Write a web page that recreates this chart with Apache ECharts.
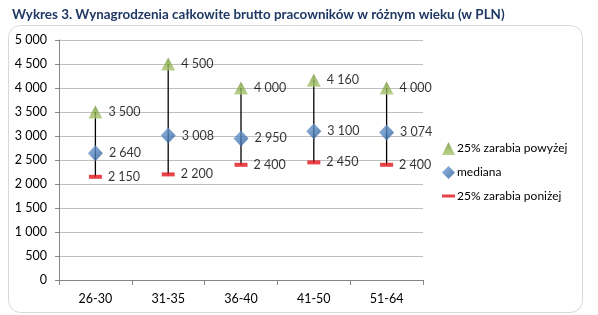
<!DOCTYPE html>
<html>
<head>
<meta charset="utf-8">
<script src="https://cdn.jsdelivr.net/npm/echarts@6/dist/echarts.min.js"></script>
<style>
html,body{margin:0;padding:0;background:#fff;}
#main{width:598px;height:315px;}
</style>
</head>
<body>
<div id="main"></div>
<script>
const categories = ['26-30', '31-35', '36-40', '41-50', '51-64'];
const highValues = [3500, 4500, 4000, 4160, 4000];
const medianValues = [2640, 3008, 2950, 3100, 3074];
const lowValues = [2150, 2200, 2400, 2450, 2400];
const yTicks = [0, 500, 1000, 1500, 2000, 2500, 3000, 3500, 4000, 4500, 5000];
const seriesNames = ['25% zarabia powyżej', 'mediana', '25% zarabia poniżej'];

function fmt(v) {
  return String(v).replace(/\B(?=(\d{3})+(?!\d))/g, ' ');
}

const font = 'Lato';
const chart = echarts.init(document.getElementById('main'));

const rangeData = categories.map((c, i) => [i, lowValues[i], highValues[i]]);

const labelCfg = {
  show: true,
  position: 'right',
  distance: 6,
  color: '#000',
  fontFamily: font,
  fontSize: 12.5,
  formatter: p => fmt(p.value)
};

chart.setOption({
  animation: false,
  title: {
    text: 'Wykres 3. Wynagrodzenia całkowite brutto pracowników w różnym wieku (w PLN)',
    left: 7,
    top: 3,
    textStyle: { fontFamily: font, fontWeight: 'bold', fontSize: 13.4, color: '#1F3864' }
  },
  graphic: [{
    type: 'rect',
    shape: { x: 8.5, y: 25.5, width: 574, height: 287, r: 12 },
    style: { fill: 'none', stroke: '#D9D9D9', lineWidth: 1 },
    z: -10
  }],
  grid: { left: 59, right: 175, top: 40, bottom: 35 },
  legend: [
    {
      data: [seriesNames[0]], left: 437, top: 137, icon: 'triangle', itemWidth: 13, itemHeight: 13,
      textStyle: { fontFamily: font, fontSize: 12, color: '#000', padding: [0, 0, 0, -3] }
    },
    {
      data: [seriesNames[1]], left: 437, top: 161, icon: 'diamond', itemWidth: 13, itemHeight: 13,
      textStyle: { fontFamily: font, fontSize: 12, color: '#000', padding: [0, 0, 0, -3] }
    },
    {
      data: [seriesNames[2]], left: 437, top: 185, icon: 'rect', itemWidth: 13, itemHeight: 3,
      textStyle: { fontFamily: font, fontSize: 12, color: '#000', padding: [0, 0, 0, -3] }
    }
  ],
  xAxis: {
    type: 'category',
    data: categories,
    boundaryGap: true,
    axisLine: { lineStyle: { color: '#868686' } },
    axisTick: { show: true, length: 5, lineStyle: { color: '#868686' } },
    axisLabel: { color: '#000', fontFamily: font, fontSize: 12.5, margin: 12 }
  },
  yAxis: {
    type: 'value',
    min: 0,
    max: 5000,
    interval: 500,
    axisLine: { show: true, lineStyle: { color: '#868686' } },
    axisTick: { show: true, length: 4, lineStyle: { color: '#868686' } },
    axisLabel: { color: '#000', fontFamily: font, fontSize: 12.5, margin: 12, formatter: v => fmt(v) },
    splitLine: { lineStyle: { color: '#BFBFBF' } }
  },
  series: [
    {
      type: 'custom',
      name: 'range',
      data: rangeData,
      encode: { x: 0, y: [1, 2] },
      z: 1,
      silent: true,
      renderItem: function (params, api) {
        const p1 = api.coord([api.value(0), api.value(1)]);
        const p2 = api.coord([api.value(0), api.value(2)]);
        return {
          type: 'line',
          shape: { x1: p1[0], y1: p1[1], x2: p2[0], y2: p2[1] },
          style: { stroke: '#000', lineWidth: 1.3 }
        };
      }
    },
    {
      type: 'scatter',
      name: seriesNames[0],
      data: highValues,
      symbol: 'triangle',
      symbolSize: [14, 13],
      z: 3,
      itemStyle: {
        color: new echarts.graphic.LinearGradient(0, 0, 0, 1, [
          { offset: 0, color: '#6E8C3A' }, { offset: 0.5, color: '#8DAE4E' }, { offset: 1, color: '#A9C673' }
        ])
      },
      label: labelCfg
    },
    {
      type: 'scatter',
      name: seriesNames[1],
      data: medianValues,
      symbol: 'diamond',
      symbolSize: [15, 16],
      z: 3,
      itemStyle: {
        color: new echarts.graphic.LinearGradient(0, 0, 1, 1, [
          { offset: 0, color: '#7FA3D4' }, { offset: 0.5, color: '#4F81BD' }, { offset: 1, color: '#2E5A8F' }
        ])
      },
      label: labelCfg
    },
    {
      type: 'scatter',
      name: seriesNames[2],
      data: lowValues,
      symbol: 'rect',
      symbolSize: [13, 4],
      z: 3,
      itemStyle: { color: '#E3141B' },
      label: Object.assign({}, labelCfg, { distance: 6 })
    }
  ]
});
</script>
</body>
</html>
